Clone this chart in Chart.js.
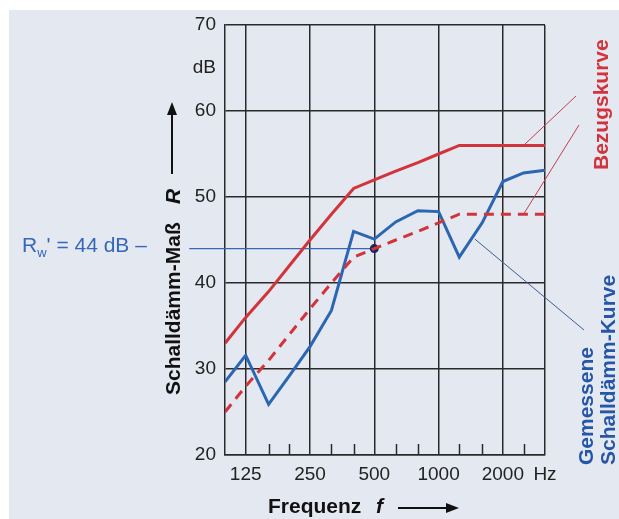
<!DOCTYPE html>
<html>
<head>
<meta charset="utf-8">
<script src="https://cdn.jsdelivr.net/npm/chart.js@4.4.1/dist/chart.umd.min.js"></script>
<style>
    html, body { margin: 0; padding: 0; background: #fff; }
    #wrap { position: relative; width: 619px; height: 519px; }
    canvas { display: block; }
</style>
</head>
<body>
<div id="wrap"><canvas id="chart" width="619" height="519"></canvas></div>
<script>
// Terzband-Mittenfrequenzen (Hz)
const frequencies = [100, 125, 160, 200, 250, 315, 400, 500, 630, 800, 1000, 1250, 1600, 2000, 2500, 3150];
// Bezugskurve (dB)
const referenceCurve = [33, 36, 39, 42, 45, 48, 51, 52, 53, 54, 55, 56, 56, 56, 56, 56];
// verschobene Bezugskurve (dB)
const shiftedCurve = [25, 28, 31, 34, 37, 40, 43, 44, 45, 46, 47, 48, 48, 48, 48, 48];
// gemessene Schalldämm-Kurve (dB)
const measuredCurve = [28.5, 31.6, 25.9, 29.2, 32.6, 36.8, 46, 45.1, 47.1, 48.4, 48.3, 43, 47, 51.8, 52.8, 53.1];

// axes
const majorTicks = [125, 250, 500, 1000, 2000, 3150];
const majorTickLabels = ['125', '250', '500', '1000', '2000', 'Hz'];
const minorTicks = [160, 200, 315, 400, 630, 800, 1250, 1600, 2500];
const yTicks = [20, 30, 40, 50, 60, 65, 70];
const yTickLabels = ['20', '30', '40', '50', '60', 'dB', '70'];

// R_w' marker line
const rwValue = 44;
const rwLineFreqs = [68, 500];

const FONT = '"Liberation Sans", Arial, Helvetica, sans-serif';
const gridColor = '#2a2a2a';
const red = '#d3333a';
const blue = '#2a66b3';
const textBlue = '#2556a8';

function pts(values) {
    return frequencies.map((f, i) => ({ x: f, y: values[i] }));
}

function arrowHead(ctx, x, y, dir) {
    // dir: 'up' or 'right'
    ctx.beginPath();
    if (dir === 'up') {
        ctx.moveTo(x, y);
        ctx.lineTo(x - 5, y + 13);
        ctx.lineTo(x + 5, y + 13);
    } else {
        ctx.moveTo(x, y);
        ctx.lineTo(x - 13, y - 5);
        ctx.lineTo(x - 13, y + 5);
    }
    ctx.closePath();
    ctx.fill();
}

const decorPlugin = {
    id: 'decor',
    beforeDraw(chart) {
        const ctx = chart.ctx;
        ctx.save();
        ctx.fillStyle = '#ffffff';
        ctx.fillRect(0, 0, chart.width, chart.height);
        ctx.fillStyle = '#e4e8f0';
        ctx.fillRect(9, 10, chart.width - 9, chart.height - 10);
        ctx.restore();
    },
    afterDraw(chart) {
        const ctx = chart.ctx;
        const xs = chart.scales.x;
        const ys = chart.scales.y;
        const area = chart.chartArea;
        ctx.save();

        // minor ticks on the frequency axis
        ctx.strokeStyle = gridColor;
        ctx.lineWidth = 1.5;
        minorTicks.forEach(f => {
            const px = Math.round(xs.getPixelForValue(f)) + 0.5;
            ctx.beginPath();
            ctx.moveTo(px, area.bottom);
            ctx.lineTo(px, area.bottom - 11);
            ctx.stroke();
        });

        // leader lines
        ctx.lineWidth = 1;
        ctx.strokeStyle = '#c2404c';
        ctx.beginPath();
        ctx.moveTo(xs.getPixelForValue(2500), ys.getPixelForValue(56));
        ctx.lineTo(576, 96);
        ctx.moveTo(xs.getPixelForValue(2500), ys.getPixelForValue(48));
        ctx.lineTo(579, 125);
        ctx.stroke();
        ctx.strokeStyle = '#3d5f90';
        ctx.beginPath();
        ctx.moveTo(xs.getPixelForValue(1480), ys.getPixelForValue(45.1));
        ctx.lineTo(584, 330);
        ctx.stroke();

        // R_w' label
        ctx.fillStyle = '#3568b8';
        ctx.textBaseline = 'alphabetic';
        ctx.textAlign = 'left';
        ctx.font = '21px ' + FONT;
        ctx.fillText('R', 22, 252);
        let w = ctx.measureText('R').width;
        ctx.font = '13px ' + FONT;
        ctx.fillText('w', 22 + w, 257);
        w += ctx.measureText('w').width;
        ctx.font = '21px ' + FONT;
        ctx.fillText("' = 44 dB \u2013", 22 + w, 252);

        // y axis title
        ctx.fillStyle = '#111';
        ctx.save();
        ctx.translate(180, 395);
        ctx.rotate(-Math.PI / 2);
        ctx.font = 'bold 21px ' + FONT;
        ctx.fillText('Schalldämm-Maß', 0, 0);
        ctx.font = 'italic bold 21px ' + FONT;
        ctx.fillText('R', 191, 0);
        ctx.restore();
        ctx.strokeStyle = '#111';
        ctx.lineWidth = 2;
        ctx.beginPath();
        ctx.moveTo(172, 174);
        ctx.lineTo(172, 112);
        ctx.stroke();
        arrowHead(ctx, 172, 102, 'up');

        // x axis title
        ctx.font = 'bold 21px ' + FONT;
        ctx.fillText('Frequenz', 268, 513);
        ctx.font = 'italic bold 21px ' + FONT;
        ctx.fillText('f', 376, 513);
        ctx.beginPath();
        ctx.moveTo(398, 508);
        ctx.lineTo(448, 508);
        ctx.stroke();
        arrowHead(ctx, 459, 508, 'right');

        // curve labels
        ctx.font = 'bold 21px ' + FONT;
        ctx.fillStyle = red;
        ctx.save();
        ctx.translate(608, 170);
        ctx.rotate(-Math.PI / 2);
        ctx.fillText('Bezugskurve', 0, 0);
        ctx.restore();

        ctx.fillStyle = textBlue;
        ctx.save();
        ctx.translate(593, 465);
        ctx.rotate(-Math.PI / 2);
        ctx.fillText('Gemessene', 0, 0);
        ctx.restore();
        ctx.save();
        ctx.translate(615, 465);
        ctx.rotate(-Math.PI / 2);
        ctx.fillText('Schalldämm-Kurve', 0, 0);
        ctx.restore();

        ctx.restore();
    }
};

new Chart(document.getElementById('chart'), {
    type: 'line',
    data: {
        datasets: [
            {
                label: 'Bezugskurve',
                data: pts(referenceCurve),
                borderColor: red,
                borderWidth: 3,
                pointRadius: 0,
                tension: 0
            },
            {
                label: 'verschobene Bezugskurve',
                data: pts(shiftedCurve),
                borderColor: red,
                borderWidth: 3,
                borderDash: [10, 7],
                pointRadius: 0,
                tension: 0
            },
            {
                label: 'Gemessene Schalldämm-Kurve',
                data: pts(measuredCurve),
                borderColor: blue,
                borderWidth: 3,
                pointRadius: 0,
                tension: 0
            },
            {
                label: "R_w'",
                data: rwLineFreqs.map(f => ({ x: f, y: rwValue })),
                borderColor: '#3568b8',
                borderWidth: 1.3,
                clip: false,
                pointRadius: ctx => ctx.dataIndex === 1 ? 4.5 : 0,
                pointBackgroundColor: '#15295a',
                pointBorderColor: '#15295a',
                pointBorderWidth: 0
            }
        ]
    },
    options: {
        responsive: false,
        animation: false,
        devicePixelRatio: 1,
        layout: { padding: { left: 175, right: 74, top: 25, bottom: 24 } },
        plugins: {
            legend: { display: false },
            tooltip: { enabled: false }
        },
        scales: {
            x: {
                type: 'logarithmic',
                min: 100,
                max: 3150,
                afterBuildTicks: s => { s.ticks = majorTicks.map(v => ({ value: v, major: false })); },
                afterFit: s => { s.height = 40; },
                ticks: {
                    autoSkip: false,
                    maxRotation: 0,
                    padding: 8,
                    color: '#222',
                    font: { family: FONT, size: 19 },
                    callback: v => majorTickLabels[majorTicks.indexOf(v)]
                },
                grid: { color: gridColor, lineWidth: 1.5, drawTicks: false },
                border: { color: gridColor, width: 1.5 }
            },
            y: {
                min: 20,
                max: 70,
                afterBuildTicks: s => { s.ticks = yTicks.map(v => ({ value: v })); },
                afterFit: s => { s.width = 50; },
                ticks: {
                    padding: 9,
                    color: '#222',
                    font: { family: FONT, size: 19 },
                    callback: v => yTickLabels[yTicks.indexOf(v)]
                },
                grid: {
                    color: c => (c.tick && c.tick.value === 65) ? 'rgba(0,0,0,0)' : gridColor,
                    lineWidth: 1.5,
                    drawTicks: false
                },
                border: { color: gridColor, width: 1.5 }
            }
        }
    },
    plugins: [decorPlugin]
});
</script>
</body>
</html>
